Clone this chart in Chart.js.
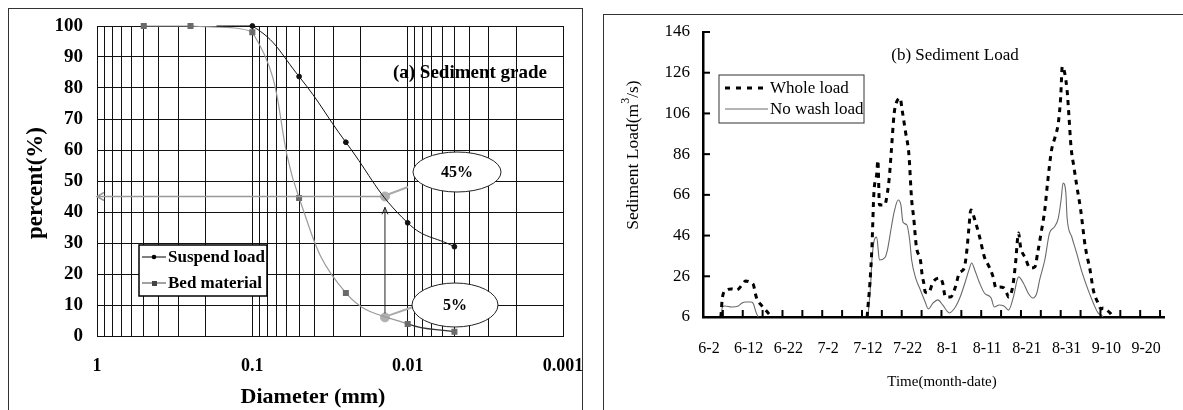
<!DOCTYPE html>
<html>
<head>
<meta charset="utf-8">
<script src="https://cdn.jsdelivr.net/npm/chart.js@4.4.0/dist/chart.umd.min.js"></script>
<style>
  body { margin: 0; background: #fff; width: 1183px; height: 410px; position: relative; overflow: hidden; }
  .frame { position: absolute; border: 1.5px solid #333; border-bottom: none; }
  #frameA { left: 8px; top: 8px; width: 573px; height: 420px; }
  #frameB { left: 603px; top: 14px; width: 600px; height: 420px; border-right: none; }
  canvas { position: absolute; top: 0; }
  #gradeChart { left: 0; }
  #loadChart { left: 600px; }
</style>
</head>
<body>
<div class="frame" id="frameA"></div>
<div class="frame" id="frameB"></div>
<canvas id="gradeChart" width="583" height="410"></canvas>
<canvas id="loadChart" width="583" height="410"></canvas>
<script>
// ---- (a) sediment grade ----
const gradeTicks = [1, 0.1, 0.01, 0.001];
const suspendDiam = [0.17, 0.1, 0.05, 0.025, 0.01, 0.005];
const suspendPct = [100, 100, 83.7, 62.5, 36.5, 28.8];
const bedDiam = [0.5, 0.25, 0.1, 0.05, 0.025, 0.01, 0.005];
const bedPct = [100, 100, 98, 44.5, 13.9, 3.9, 1.4];
const markDiam = [0.014, 0.014];   // d45 / d5 marks
const markPct = [45, 6];

// ---- (b) sediment load ----  (day 1 = 6-1)
const loadTicks = [6, 26, 46, 66, 86, 106, 126, 146];
const dateLabels = ['6-2', '6-12', '6-22', '7-2', '7-12', '7-22', '8-1', '8-11', '8-21', '8-31', '9-10', '9-20'];
const dateLabelDays = [2, 12, 22, 32, 42, 52, 62, 72, 82, 92, 102, 112];
const wholeDays = [5, 5.4, 6.4, 7.6, 9, 10.3, 11.2, 12.7, 13.2, 13.9, 14.9, 15.6, 16.9, 17.6, 18, 30,
  41.8, 42, 42.5, 43, 43.5, 44.2, 44.5, 44.9, 46.2, 46.9, 47.4, 47.9, 48.6, 49.1, 50.1, 50.6, 51.5, 52.3, 53, 53.5,
  54.2, 55.2, 55.7, 56, 56.4, 57.2, 58.4, 60.1, 60.8, 61.5, 62.8, 64, 65, 66.2, 66.9, 67.4, 67.9, 68.9, 70.1,
  71.3, 72.5, 73.5, 74.2, 75, 76.2, 76.9, 77.4, 78.4, 79.1, 79.9, 80.4, 81.6, 82.8, 84, 84.7, 85.7, 86.5, 87.2,
  88.2, 89.1, 89.9, 90.5, 90.9, 92.1, 92.6, 93.1, 93.8, 94.5, 95.5, 96.7, 97.9, 98.7, 99.9, 100.7, 101.2, 102.9, 103.6, 104];
const wholeLoad = [6, 15.8, 19.3, 19.8, 19.3, 21.7, 23.7, 22.7, 21.7, 15.8, 12.4, 10.9, 8, 6.5, 6, null,
  6, 10.9, 22.7, 40, 67, 76, 83, 61, 61, 67, 75, 88, 106, 111, 113.6, 107.7, 96.4, 86, 63.5, 55,
  40.4, 34, 25.7, 23.2, 18.3, 17.8, 23.2, 25.2, 22.7, 15.8, 15.8, 20.7, 27.6, 30, 38.9, 49.7, 58.6, 53.7, 45.3,
  35.5, 30.6, 25.7, 20.3, 20.7, 20.3, 17.8, 15.8, 20.7, 31.6, 47.3, 40.4, 35, 30, 30.6, 37.5, 48.8, 58.6, 72,
  88, 94.5, 101.3, 114, 129, 117.5, 104, 89.5, 80, 71, 59, 40.4, 29, 19.3, 12.9, 9.9, 10.4, 8, 6.5, 6];
const noWashDays = [5, 5.4, 6, 7.7, 9.4, 10.3, 11.2, 12.7, 13.2, 13.9, 14.4, 30,
  42, 42.7, 43, 43.6, 44.2, 44.9, 46.2, 46.9, 47.9, 48.6, 49.6, 50.3, 50.8, 51.8, 52.5, 53, 54, 55.2, 56.4, 57.2,
  58.4, 59.6, 60.8, 62.5, 64, 65.2, 66.4, 67.4, 68.1, 68.9, 70.1, 71.3, 73, 73.8, 75, 76.2, 77.4, 78.6, 79.9,
  81.1, 82.3, 83.5, 84.5, 85.2, 86.5, 87.7, 88.9, 89.9, 90.6, 91.1, 91.8, 92.1, 93.3, 94.5, 95.7, 97.4, 98.7, 99.9, 100.7, 101.2];
const noWashLoad = [6, 10.9, 11.4, 10.9, 11.4, 12.9, 13.4, 13.4, 12.4, 8, 6, null,
  6, 22.7, 34, 43.8, 45.3, 34, 35, 38.9, 50.2, 57.6, 63.5, 61, 52.7, 51.2, 43.8, 34, 25.2, 19.3, 13.4, 10,
  12.9, 14.4, 11.9, 8, 10.9, 15.8, 22.7, 29, 32.5, 29, 22.7, 17.8, 15.3, 10.9, 11.9, 11.4, 9.4, 15.8, 25.7,
  22.7, 17.8, 15.3, 17.8, 24.2, 34, 47.3, 50.2, 54.6, 63.5, 71.8, 66.9, 55, 45.3, 37.5, 29, 19.3, 12.9, 8, 7, 6];

const pairs = (xs, ys) => xs.map((v, i) => ({ x: v, y: ys[i] }));
const serif = "'Liberation Serif', 'Times New Roman', serif";

function arrowHead(ctx, x, y, dir) {
  // dir: 'left' or 'up'
  ctx.beginPath();
  if (dir === 'left') { ctx.moveTo(x + 7, y - 4); ctx.lineTo(x, y); ctx.lineTo(x + 7, y + 4); }
  else { ctx.moveTo(x - 3, y + 7); ctx.lineTo(x, y); ctx.lineTo(x + 3, y + 7); }
  ctx.stroke();
}

const gradeNotes = {
  id: 'gradeNotes',
  afterDatasetsDraw(chart) {
    const { ctx, scales: { x, y } } = chart;
    ctx.save();
    // guide lines to the 45% / 5% marks
    const mx = x.getPixelForValue(markDiam[0]);
    const y45 = y.getPixelForValue(markPct[0]);
    const y5 = y.getPixelForValue(markPct[1]);
    ctx.strokeStyle = '#999'; ctx.lineWidth = 1.5;
    ctx.beginPath(); ctx.moveTo(x.left, y45); ctx.lineTo(mx - 4, y45); ctx.stroke();
    arrowHead(ctx, x.left, y45, 'left');
    ctx.strokeStyle = '#222'; ctx.lineWidth = 1;
    ctx.beginPath(); ctx.moveTo(mx, y5 - 4); ctx.lineTo(mx, y.getPixelForValue(41.5)); ctx.stroke();
    arrowHead(ctx, mx, y.getPixelForValue(41.5), 'up');
    // callouts
    ctx.strokeStyle = '#aaa'; ctx.lineWidth = 2;
    ctx.beginPath(); ctx.moveTo(mx + 3, y45 - 2); ctx.lineTo(408, 187); ctx.stroke();
    ctx.beginPath(); ctx.moveTo(mx + 4, y5 - 2); ctx.lineTo(413, 307); ctx.stroke();
    ctx.font = 'bold 16px ' + serif; ctx.textAlign = 'center'; ctx.textBaseline = 'middle';
    [[457, 172, 44, 20, '45%'], [455, 305, 43, 22, '5%']].forEach(([cx, cy, rx, ry, t]) => {
      ctx.beginPath(); ctx.ellipse(cx, cy, rx, ry, 0, 0, Math.PI * 2);
      ctx.fillStyle = '#fff'; ctx.fill();
      ctx.strokeStyle = '#222'; ctx.lineWidth = 1; ctx.stroke();
      ctx.fillStyle = '#000'; ctx.fillText(t, cx, cy + 1);
    });
    // title
    ctx.font = 'bold 19px ' + serif;
    ctx.fillText('(a) Sediment grade', 470, 73);
    // legend
    ctx.fillStyle = '#fff'; ctx.fillRect(139, 245, 128, 51);
    ctx.strokeStyle = '#000'; ctx.lineWidth = 1.5; ctx.strokeRect(139, 245, 128, 51);
    ctx.lineWidth = 1;
    ctx.strokeStyle = '#000'; ctx.beginPath(); ctx.moveTo(142, 257); ctx.lineTo(166, 257); ctx.stroke();
    ctx.fillStyle = '#000'; ctx.beginPath(); ctx.arc(154, 257, 2.3, 0, Math.PI * 2); ctx.fill();
    ctx.strokeStyle = '#444'; ctx.beginPath(); ctx.moveTo(142, 283); ctx.lineTo(166, 283); ctx.stroke();
    ctx.fillStyle = '#444'; ctx.fillRect(152, 281, 5, 5);
    ctx.fillStyle = '#000'; ctx.font = 'bold 17px ' + serif; ctx.textAlign = 'left';
    ctx.fillText('Suspend load', 168, 258);
    ctx.fillText('Bed material', 168, 284);
    // axis titles
    ctx.textAlign = 'center';
    ctx.font = 'bold 22px ' + serif;
    ctx.fillText('Diameter (mm)', 313, 397);
    ctx.translate(36, 183); ctx.rotate(-Math.PI / 2);
    ctx.font = 'bold 23px ' + serif;
    ctx.fillText('percent(%)', 0, 0);
    ctx.restore();
  }
};

new Chart(document.getElementById('gradeChart'), {
  type: 'line',
  data: {
    datasets: [
      {
        label: 'Suspend load', data: pairs(suspendDiam, suspendPct),
        borderColor: '#111', borderWidth: 1, tension: 0.45, clip: 6,
        pointStyle: 'circle', pointRadius: [0, 2.4, 2.4, 2.4, 2.4, 2.4],
        pointBackgroundColor: '#111', pointBorderColor: '#111'
      },
      {
        label: 'Bed material', data: pairs(bedDiam, bedPct),
        borderColor: '#9a9a9a', borderWidth: 1.2, tension: 0.45, clip: 6,
        segment: { borderColor: c => c.p0DataIndex === 5 ? '#333' : '#9a9a9a' },
        pointStyle: 'rect', pointRadius: 3.4,
        pointBackgroundColor: '#6a6a6a', pointBorderColor: '#6a6a6a'
      },
      {
        label: 'marks', data: pairs(markDiam, markPct), showLine: false,
        pointRadius: 4.5, pointBackgroundColor: '#b0b0b0', pointBorderColor: '#b0b0b0'
      }
    ]
  },
  options: {
    responsive: false, animation: false, events: [],
    layout: { padding: { top: 26, right: 20, left: 0, bottom: 0 } },
    plugins: { legend: { display: false }, tooltip: { enabled: false } },
    scales: {
      x: {
        type: 'logarithmic', reverse: true, min: 0.001, max: 1,
        afterBuildTicks: s => {
          const t = [];
          for (let e = -3; e < 0; e++) for (let k = 1; k < 10; k++) t.push({ value: k * 10 ** e });
          t.push({ value: 1 });
          s.ticks = t;
        },
        afterFit: s => { s.height = 74; },
        grid: { color: '#111', lineWidth: 1, drawTicks: false },
        border: { color: '#111', width: 1 },
        ticks: {
          autoSkip: false, maxRotation: 0, padding: 20, color: '#000',
          font: { family: serif, size: 18, weight: 'bold' },
          callback: v => gradeTicks.some(g => Math.abs(g - v) < 1e-9) ? String(v) : ''
        }
      },
      y: {
        min: 0, max: 100,
        afterFit: s => { s.width = 97; },
        grid: { color: '#111', lineWidth: 1, drawTicks: false },
        border: { color: '#111', width: 1 },
        ticks: { stepSize: 10, padding: 14, color: '#000', font: { family: serif, size: 19, weight: 'bold' } }
      }
    }
  },
  plugins: [gradeNotes]
});

// ---- (b) ----
const loadNotes = {
  id: 'loadNotes',
  afterDraw(chart) {
    const { ctx, scales: { x, y } } = chart;
    ctx.save();
    // inward tick marks
    ctx.strokeStyle = '#000'; ctx.lineWidth = 2;
    for (let d = 5.5; d < 116.5; d += 5) {
      const px = x.getPixelForValue(d);
      ctx.beginPath(); ctx.moveTo(px, y.bottom); ctx.lineTo(px, y.bottom - 7); ctx.stroke();
    }
    loadTicks.slice(1).forEach(v => {
      const py = y.getPixelForValue(v);
      ctx.beginPath(); ctx.moveTo(x.left, py); ctx.lineTo(x.left + 7, py); ctx.stroke();
    });
    // legend
    ctx.fillStyle = '#fff'; ctx.fillRect(119, 75, 145, 48);
    ctx.strokeStyle = '#333'; ctx.lineWidth = 1; ctx.strokeRect(119, 75, 145, 48);
    ctx.strokeStyle = '#000'; ctx.lineWidth = 3; ctx.setLineDash([5, 6]);
    ctx.beginPath(); ctx.moveTo(125, 88); ctx.lineTo(168, 88); ctx.stroke();
    ctx.setLineDash([]);
    ctx.strokeStyle = '#6a6a6a'; ctx.lineWidth = 1;
    ctx.beginPath(); ctx.moveTo(125, 109); ctx.lineTo(168, 109); ctx.stroke();
    ctx.fillStyle = '#000'; ctx.font = '17px ' + serif; ctx.textBaseline = 'middle'; ctx.textAlign = 'left';
    ctx.fillText('Whole load', 170, 89);
    ctx.fillText('No wash load', 170, 110);
    // titles
    ctx.textAlign = 'center';
    ctx.fillText('(b) Sediment Load', 355, 56);
    ctx.font = '15px ' + serif;
    ctx.fillText('Time(month-date)', 342, 382);
    ctx.translate(33, 155); ctx.rotate(-Math.PI / 2);
    ctx.font = '17.5px ' + serif;
    const a = 'Sediment Load(m', b = '3', c = '/s)';
    const wa = ctx.measureText(a).width, wc = ctx.measureText(c).width;
    ctx.font = '12px ' + serif; const wb = ctx.measureText(b).width;
    let sx = -(wa + wb + wc) / 2;
    ctx.textAlign = 'left';
    ctx.font = '17.5px ' + serif; ctx.fillText(a, sx, 0); sx += wa;
    ctx.font = '12px ' + serif; ctx.fillText(b, sx, -7); sx += wb;
    ctx.font = '17.5px ' + serif; ctx.fillText(c, sx, 0);
    ctx.restore();
  }
};

new Chart(document.getElementById('loadChart'), {
  type: 'line',
  data: {
    datasets: [
      {
        label: 'Whole load', data: pairs(wholeDays, wholeLoad),
        borderColor: '#000', borderWidth: 3, borderDash: [5, 5],
        cubicInterpolationMode: 'monotone', pointRadius: 0, spanGaps: false
      },
      {
        label: 'No wash load', data: pairs(noWashDays, noWashLoad),
        borderColor: '#6a6a6a', borderWidth: 1.1,
        cubicInterpolationMode: 'monotone', pointRadius: 0, spanGaps: false
      }
    ]
  },
  options: {
    responsive: false, animation: false, events: [],
    layout: { padding: { top: 32, right: 5, left: 0, bottom: 0 } },
    plugins: { legend: { display: false }, tooltip: { enabled: false } },
    scales: {
      x: {
        type: 'linear', min: 0.5, max: 116.5, z: 1,
        afterBuildTicks: s => { s.ticks = dateLabelDays.map(v => ({ value: v })); },
        afterFit: s => { s.height = 93; },
        grid: { display: false, drawTicks: false },
        border: { color: '#000', width: 2.5 },
        ticks: {
          autoSkip: false, maxRotation: 0, padding: 22, color: '#000',
          font: { family: serif, size: 16 },
          callback: v => dateLabels[dateLabelDays.indexOf(v)]
        }
      },
      y: {
        min: 6, max: 146, z: 1,
        afterBuildTicks: s => { s.ticks = loadTicks.map(v => ({ value: v })); },
        afterFit: s => { s.width = 103; },
        grid: { display: false, drawTicks: false },
        border: { color: '#000', width: 2.5 },
        ticks: { padding: 13, color: '#000', font: { family: serif, size: 17 } }
      }
    }
  },
  plugins: [loadNotes]
});
</script>
</body>
</html>
